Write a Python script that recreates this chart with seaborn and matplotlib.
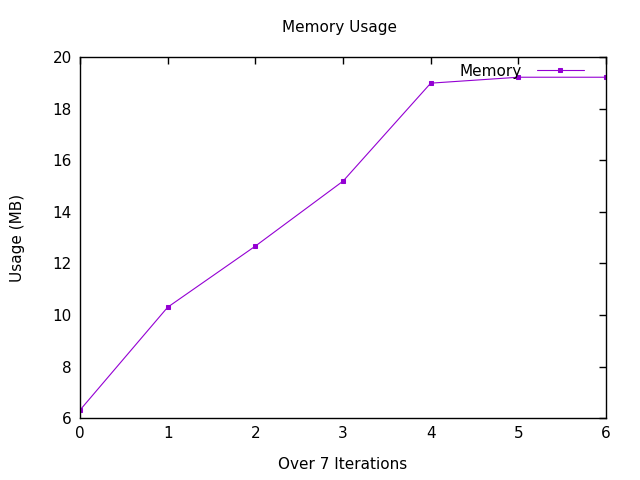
import matplotlib
matplotlib.use("Agg")
import matplotlib.pyplot as plt
import seaborn as sns
import pandas as pd

iterations = [0, 1, 2, 3, 4, 5, 6]
memory_mb = [6.31, 10.30, 12.67, 15.19, 18.99, 19.22, 19.22]

sns.set_style("white")
plt.rcParams['font.family'] = ['DejaVu Sans']
plt.rcParams['text.color'] = 'black'
plt.rcParams['axes.labelcolor'] = 'black'

df = pd.DataFrame({'iter': iterations, 'mem': memory_mb})

fig = plt.figure(figsize=(6.4, 4.8), dpi=100)
ax = fig.add_axes([0.125, 0.129, 0.822, 0.752])
color = '#9400d3'
sns.lineplot(data=df, x='iter', y='mem', ax=ax, color=color, lw=0.8,
             marker='s', markersize=3.5, markeredgecolor=color, label='Memory')

ax.set_xlim(0, 6)
ax.set_ylim(6, 20)
ax.set_xticks(range(0, 7))
ax.set_yticks(range(6, 21, 2))
ax.tick_params(direction='in', length=5, width=1, top=True, right=True,
               labelsize=11, colors='black', pad=6)
for s in ax.spines.values():
    s.set_color('black')
    s.set_linewidth(1)

ax.set_xlabel('Over 7 Iterations', fontsize=11)
ax.set_ylabel('Usage (MB)', fontsize=11)
ax.xaxis.set_label_coords(0.5, -0.108)
ax.yaxis.set_label_coords(-0.104, 0.5)
fig.text(0.53, 0.942, 'Memory Usage', fontsize=11, ha='center', va='center')

leg = ax.legend(loc='center right', bbox_to_anchor=(0.958, 0.961), frameon=False,
                markerfirst=False, fontsize=11, handlelength=3.1,
                handletextpad=1.0, borderpad=0, borderaxespad=0)

fig.savefig('out.png', dpi=100)
